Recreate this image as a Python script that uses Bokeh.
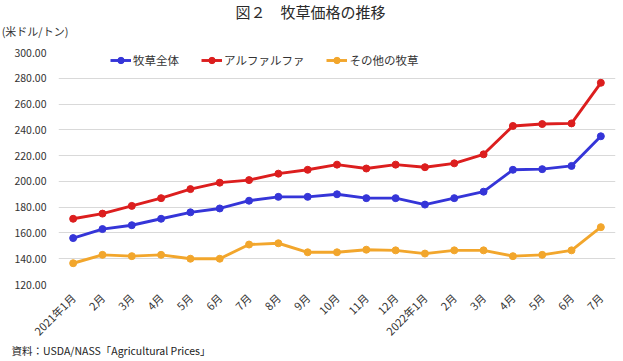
from bokeh.plotting import figure
from bokeh.models import (Range1d, FixedTicker, Legend, LegendItem, Label,
                          PrintfTickFormatter)
from bokeh.embed import file_html
from bokeh.resources import INLINE

# ---- data ----
month_labels = ["2021年1月", "2月", "3月", "4月", "5月", "6月", "7月", "8月", "9月",
                "10月", "11月", "12月", "2022年1月", "2月", "3月", "4月", "5月", "6月", "7月"]
hay_all = [156, 163, 166, 171, 176, 179, 185, 188, 188, 190, 187, 187, 182, 187, 192,
           209, 209.5, 212, 235]
alfalfa = [171, 175, 181, 187, 194, 199, 201, 206, 209, 213, 210, 213, 211, 214, 221,
           243, 244.5, 245, 276.5]
other_hay = [136.5, 143, 142, 143, 140, 140, 151, 152, 145, 145, 147, 146.5, 144, 146.5,
             146.5, 142, 143, 146.5, 164.5]
series_names = ["牧草全体", "アルファルファ", "その他の牧草"]
y_ticks = [120, 140, 160, 180, 200, 220, 240, 260, 280, 300]
title_text = "図２　牧草価格の推移"
unit_text = "(米ドル/トン)"
source_text = "資料：USDA/NASS「Agricultural Prices」"

FONT = "Noto Sans CJK JP"
colors = ["#3535d8", "#dc1e1e", "#f2a62c"]

xs = list(range(len(month_labels)))

p = figure(width=623, height=361, output_backend="svg", toolbar_location=None,
           x_range=Range1d(-0.5, len(month_labels) - 0.5),
           y_range=Range1d(y_ticks[0], y_ticks[-1]),
           min_border_left=58, min_border_right=8, min_border_top=52,
           min_border_bottom=75)
p.outline_line_color = None
p.background_fill_color = "white"
p.border_fill_color = "white"

# axes
p.yaxis.ticker = FixedTicker(ticks=y_ticks)
p.yaxis.formatter = PrintfTickFormatter(format="%.2f")
p.xaxis.ticker = FixedTicker(ticks=xs)
p.xaxis.major_label_overrides = {i: lab for i, lab in enumerate(month_labels)}
p.xaxis.major_label_orientation = 0.785398
for ax in (p.xaxis[0], p.yaxis[0]):
    ax.axis_line_color = None
    ax.major_tick_line_color = None
    ax.minor_tick_line_color = None
    ax.major_label_text_font = FONT
    ax.major_label_text_color = "#333333"
p.yaxis.major_label_text_font_size = "10.5px"
p.xaxis.major_label_text_font_size = "11px"
p.yaxis.major_label_standoff = 6
p.xaxis.major_label_standoff = 5

p.xgrid.grid_line_color = None
p.ygrid.ticker = FixedTicker(ticks=y_ticks)
p.ygrid.grid_line_color = "#d9d9d9"
p.ygrid.grid_line_width = 1

items = []
for name, vals, col in zip(series_names, [hay_all, alfalfa, other_hay], colors):
    lr = p.line(xs, vals, line_color=col, line_width=2.9)
    sr = p.scatter(xs, vals, size=7, fill_color=col, line_color=col)
    items.append(LegendItem(label=name, renderers=[lr, sr]))

legend = Legend(items=items, orientation="horizontal", location=(52, 216),
                padding=0, margin=0, spacing=22, label_standoff=2,
                glyph_width=21, glyph_height=16, label_height=16,
                label_text_font=FONT, label_text_font_size="11.5px",
                label_text_color="#333333",
                background_fill_alpha=0, border_line_color=None)
p.add_layout(legend, "center")

# texts around the chart: labels in side panels (not clipped to the frame)
p.add_layout(Label(x=5.54, y=331.5, text=title_text, text_font=FONT,
                   text_font_size="15px", text_align="left",
                   text_baseline="middle", text_color="#2a2a2a"), "above")
p.add_layout(Label(x=-2.44, y=316.9, text=unit_text, text_font=FONT,
                   text_font_size="11px", text_align="left",
                   text_baseline="middle", text_color="#333333"), "above")
p.add_layout(Label(x=-2.10, y=68.5, text=source_text, text_font=FONT,
                   text_font_size="10.5px", text_align="left",
                   text_baseline="middle", text_color="#222222"), "below")

open("out.html", "w").write(file_html(p, INLINE))
